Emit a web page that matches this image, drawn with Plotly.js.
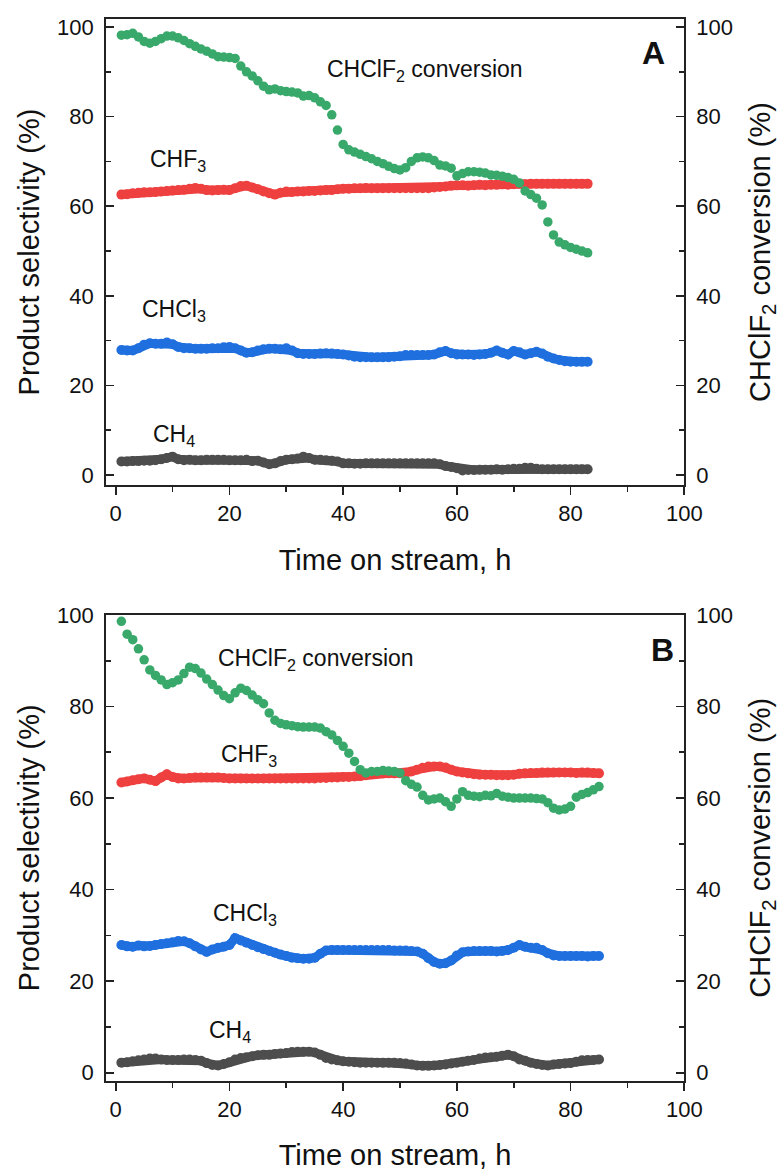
<!DOCTYPE html>
<html>
<head>
<meta charset="utf-8">
<script src="https://cdn.plot.ly/plotly-3.0.1.min.js"></script>
<style>html,body{margin:0;padding:0;background:#fff;}#chart{width:780px;height:1171px;}</style>
</head>
<body>
<div id="chart"></div>
<script>
// ---------- Panel A data (time on stream, h) ----------
const timeA = [1,2,3,4,5,6,7,8,9,10,11,12,13,14,15,16,17,18,19,20,21,22,23,24,25,26,27,28,29,30,31,32,33,34,35,36,37,38,39,40,41,42,43,44,45,46,47,48,49,50,51,52,53,54,55,56,57,58,59,60,61,62,63,64,65,66,67,68,69,70,71,72,73,74,75,76,77,78,79,80,81,82,83];
const convA = [98.2,98.3,98.6,97.8,96.8,96.4,96.8,97.4,98.0,98.0,97.6,97.0,96.3,95.7,95.1,94.6,94.0,93.4,93.3,93.2,93.0,91.3,90.0,89.1,88.0,86.8,86.0,86.2,85.8,85.6,85.5,85.3,84.6,84.7,84.2,83.3,82.5,80.4,77.0,73.8,72.6,72.1,71.6,71.1,70.6,70.0,69.5,68.9,68.4,68.1,68.6,70.0,70.8,71.0,70.8,70.2,69.2,69.0,68.5,66.8,67.3,67.7,67.7,67.6,67.4,67.0,66.9,66.7,66.4,66.0,65.2,63.4,62.6,61.8,60.3,56.5,53.6,52.0,51.4,50.8,50.4,50.0,49.6];
const chf3A = [62.6,62.7,62.9,63.0,63.1,63.1,63.2,63.3,63.4,63.5,63.6,63.7,63.9,64.1,63.9,63.6,63.5,63.6,63.7,63.6,64.0,64.5,64.6,64.2,63.8,63.3,62.9,62.6,63.0,63.3,63.2,63.3,63.3,63.4,63.4,63.5,63.6,63.6,63.8,63.9,63.9,64.0,64.0,64.1,64.0,64.0,64.0,64.0,64.0,64.0,64.0,64.0,64.0,64.0,64.0,64.2,64.3,64.4,64.6,64.7,64.7,64.6,64.7,64.8,64.7,64.8,64.8,64.9,64.8,64.9,65.0,64.9,65.0,65.0,65.0,65.0,65.0,65.0,65.0,65.0,65.0,65.0,65.0];
const chcl3A = [27.9,27.8,27.8,28.3,29.1,29.4,29.3,29.3,29.6,29.2,28.6,28.3,28.3,28.2,28.2,28.2,28.3,28.3,28.5,28.6,28.3,27.8,27.3,27.4,27.8,28.1,28.2,28.2,28.1,28.3,27.8,27.2,27.0,27.0,27.0,27.1,27.2,27.1,27.0,26.9,26.7,26.4,26.3,26.3,26.3,26.3,26.3,26.3,26.4,26.5,26.8,26.8,26.8,26.8,26.8,26.9,27.4,27.7,27.2,26.9,26.9,26.9,26.8,26.9,27.0,27.3,27.8,27.3,26.9,27.7,27.4,26.9,27.2,27.5,27.1,26.4,26.0,25.7,25.4,25.3,25.3,25.3,25.3];
const ch4A = [3.0,3.0,3.1,3.1,3.2,3.2,3.3,3.5,3.8,4.1,3.5,3.3,3.4,3.3,3.3,3.4,3.4,3.4,3.4,3.3,3.3,3.3,3.4,3.1,3.2,2.8,2.4,2.6,3.1,3.4,3.5,3.7,4.1,3.8,3.4,3.4,3.3,3.2,3.0,2.6,2.6,2.5,2.5,2.6,2.6,2.6,2.6,2.6,2.6,2.6,2.6,2.6,2.6,2.6,2.6,2.6,2.4,2.0,1.8,1.5,1.0,1.1,1.1,1.2,1.2,1.2,1.3,1.2,1.3,1.4,1.4,1.6,1.6,1.4,1.3,1.3,1.3,1.3,1.3,1.3,1.3,1.3,1.3];

// ---------- Panel B data ----------
const timeB = [1,2,3,4,5,6,7,8,9,10,11,12,13,14,15,16,17,18,19,20,21,22,23,24,25,26,27,28,29,30,31,32,33,34,35,36,37,38,39,40,41,42,43,44,45,46,47,48,49,50,51,52,53,54,55,56,57,58,59,60,61,62,63,64,65,66,67,68,69,70,71,72,73,74,75,76,77,78,79,80,81,82,83,84,85];
const convB = [98.6,95.8,94.6,92.6,90.2,88.0,86.8,85.8,84.8,85.2,85.8,87.2,88.6,88.3,87.3,86.0,84.8,83.6,82.4,81.7,83.0,84.0,83.5,82.5,81.5,80.6,78.6,77.0,76.3,76.0,75.8,75.6,75.5,75.5,75.5,75.3,74.5,73.8,72.6,71.3,69.8,68.0,66.2,65.5,65.8,65.8,66.0,65.9,65.8,65.5,63.8,63.0,62.4,60.6,59.6,59.8,60.0,59.2,58.2,59.8,61.4,60.6,60.4,60.3,60.6,60.5,61.0,60.4,60.2,60.0,60.0,60.0,60.0,59.9,59.8,59.0,57.8,57.4,57.6,58.2,60.2,60.8,61.2,61.8,62.5];
const chf3B = [63.4,63.6,63.9,64.1,64.3,64.0,63.7,64.5,65.2,64.6,64.3,64.3,64.4,64.5,64.5,64.5,64.5,64.5,64.4,64.3,64.3,64.3,64.3,64.3,64.3,64.3,64.3,64.3,64.3,64.3,64.3,64.3,64.3,64.3,64.3,64.4,64.4,64.5,64.5,64.6,64.6,64.7,64.8,65.0,65.2,65.3,65.4,65.4,65.4,65.4,65.5,65.8,66.2,66.6,66.9,66.9,66.9,66.7,66.2,65.8,65.6,65.4,65.2,65.1,65.1,65.1,65.0,65.0,65.0,65.1,65.3,65.4,65.5,65.5,65.6,65.6,65.6,65.6,65.6,65.6,65.5,65.6,65.6,65.5,65.4];
const chcl3B = [27.9,27.6,27.5,27.8,27.6,27.7,27.9,28.1,28.3,28.5,28.8,28.7,28.3,27.6,26.9,26.4,26.9,27.3,27.5,27.9,29.4,28.9,28.4,27.9,27.4,27.0,26.6,26.2,25.8,25.5,25.1,25.0,24.9,24.9,25.1,26.0,26.7,26.8,26.8,26.8,26.8,26.8,26.8,26.8,26.8,26.8,26.8,26.8,26.7,26.7,26.7,26.6,26.5,26.0,25.0,24.2,23.8,23.9,24.5,25.6,26.3,26.5,26.6,26.6,26.6,26.6,26.5,26.6,26.8,27.3,27.9,27.5,27.3,27.3,26.8,26.1,25.6,25.5,25.5,25.5,25.5,25.5,25.4,25.5,25.5];
const ch4B = [2.2,2.3,2.5,2.7,2.9,3.1,3.1,2.9,2.8,2.8,2.8,2.9,2.9,2.8,2.6,2.1,1.7,1.6,1.9,2.3,2.9,3.2,3.4,3.6,3.8,3.9,3.9,4.1,4.2,4.3,4.5,4.6,4.6,4.6,4.4,3.9,3.2,2.9,2.7,2.5,2.4,2.3,2.2,2.2,2.2,2.2,2.2,2.2,2.2,2.1,2.0,1.8,1.6,1.5,1.5,1.6,1.7,1.8,2.0,2.2,2.4,2.6,2.8,3.1,3.3,3.4,3.5,3.7,3.9,3.6,2.9,2.6,2.2,1.9,1.7,1.6,1.8,1.9,2.0,2.1,2.4,2.7,2.8,2.8,2.9];

// ---------- labels ----------
const xTitle = 'Time on stream, h';
const yLeftTitle = 'Product selectivity (%)';
const yRightTitle = 'CHClF<sub>2</sub> conversion (%)';
const seriesNames = ['CHF<sub>3</sub>', 'CHCl<sub>3</sub>', 'CH<sub>4</sub>', 'CHClF<sub>2</sub> conversion'];
const panelLabels = ['A', 'B'];
const xTicks = [0, 20, 40, 60, 80, 100];
const yTicks = [0, 20, 40, 60, 80, 100];

const FONT = 'Liberation Sans, Arial, Helvetica, sans-serif';
const COL = {red: '#ef4040', blue: '#1f6fdf', gray: '#4d4d4d', green: '#38a96a'};
const TXT = '#111111';

function band(x, y, xa, ya, color, name) {
  return {x: x, y: y, xaxis: xa, yaxis: ya, type: 'scatter', mode: 'lines+markers', name: name,
    line: {color: color, width: 9}, marker: {color: color, size: 10, line: {width: 0}},
    showlegend: false, hoverinfo: 'skip'};
}
function dots(x, y, xa, ya, color, name) {
  return {x: x, y: y, xaxis: xa, yaxis: ya, type: 'scatter', mode: 'markers', name: name,
    marker: {color: color, size: 9.5, line: {width: 0}}, showlegend: false, hoverinfo: 'skip'};
}

const traces = [
  band(timeA, chf3A, 'x', 'y', COL.red, 'CHF3'),
  band(timeA, chcl3A, 'x', 'y', COL.blue, 'CHCl3'),
  band(timeA, ch4A, 'x', 'y', COL.gray, 'CH4'),
  dots(timeA, convA, 'x', 'y2', COL.green, 'conversion'),
  band(timeB, chf3B, 'x2', 'y3', COL.red, 'CHF3'),
  band(timeB, chcl3B, 'x2', 'y3', COL.blue, 'CHCl3'),
  band(timeB, ch4B, 'x2', 'y3', COL.gray, 'CH4'),
  dots(timeB, convB, 'x2', 'y4', COL.green, 'conversion'),
];

const xDom = [105.7/780, 684.3/780];
const domA = [1 - 485/1171, 1 - 19/1171];
const domB = [1 - 1081/1171, 1 - 614.5/1171];

function xAxis(anchor) {
  return {domain: xDom, anchor: anchor, range: [-1.76, 100], tickvals: xTicks, ticktext: xTicks.map(String),
    ticks: 'outside', ticklen: 8, tickwidth: 1.6, tickcolor: '#222',
    minor: {tickvals: [10,30,50,70,90], ticks: 'outside', ticklen: 5, tickwidth: 1.6, tickcolor: '#222'},
    showline: true, linecolor: '#222', linewidth: 1.6, mirror: true,
    showgrid: false, zeroline: false,
    tickfont: {family: FONT, size: 22, color: TXT},
    title: {text: xTitle, font: {family: FONT, size: 29, color: TXT}, standoff: 24}};
}
function yAxis(dom, anchor, range, side, overlay, title, standoff) {
  const a = {domain: dom, anchor: anchor, range: range, side: side, tickvals: yTicks, ticktext: yTicks.map(String),
    ticks: 'inside', ticklen: 8, tickwidth: 1.6, tickcolor: '#222',
    minor: {tickvals: [10,30,50,70,90], ticks: 'inside', ticklen: 5, tickwidth: 1.6, tickcolor: '#222'},
    showline: true, linecolor: '#222', linewidth: 1.6,
    showgrid: false, zeroline: false, ticklabelstandoff: 6,
    tickfont: {family: FONT, size: 22, color: TXT},
    title: {text: title, font: {family: FONT, size: 29, color: TXT}, standoff: standoff}};
  if (overlay) a.overlaying = overlay;
  return a;
}

const rangeA = [-2.23, 101.8];
const rangeB = [-1.81, 100.1];

function ann(x, y, xref, yref, text, size, bold, xanchor) {
  return {x: x, y: y, xref: xref, yref: yref, text: bold ? '<b>' + text + '</b>' : text, showarrow: false,
    xanchor: xanchor || 'left', yanchor: 'middle', font: {family: FONT, size: size, color: TXT}};
}

const annotations = [
  ann(36.8, 90.4, 'x', 'y', seriesNames[3], 23),
  ann(5.7, 70.3, 'x', 'y', seriesNames[0], 23),
  ann(4.3, 36.8, 'x', 'y', seriesNames[1], 23),
  ann(6.2, 8.9, 'x', 'y', seriesNames[2], 23),
  ann(94.5, 94.2, 'x', 'y', panelLabels[0], 32, true, 'center'),
  ann(17.6, 90.2, 'x2', 'y3', seriesNames[3], 23),
  ann(18.1, 69.4, 'x2', 'y3', seriesNames[0], 23),
  ann(16.7, 34.5, 'x2', 'y3', seriesNames[1], 23),
  ann(16.1, 9.0, 'x2', 'y3', seriesNames[2], 23),
  ann(96.1, 92.4, 'x2', 'y3', panelLabels[1], 32, true, 'center'),
];

const layout = {
  width: 780, height: 1171,
  margin: {l: 0, r: 0, t: 0, b: 0, pad: 0},
  paper_bgcolor: '#ffffff', plot_bgcolor: '#ffffff',
  showlegend: false,
  font: {family: FONT, color: TXT},
  xaxis: xAxis('y'),
  yaxis: yAxis(domA, 'x', rangeA, 'left', null, yLeftTitle, 9),
  yaxis2: yAxis(domA, 'x', rangeA, 'right', 'y', yRightTitle, 17),
  xaxis2: xAxis('y3'),
  yaxis3: yAxis(domB, 'x2', rangeB, 'left', null, yLeftTitle, 9),
  yaxis4: yAxis(domB, 'x2', rangeB, 'right', 'y3', yRightTitle, 17),
  annotations: annotations,
};

Plotly.newPlot('chart', traces, layout, {displayModeBar: false, staticPlot: true});
</script>
</body>
</html>
